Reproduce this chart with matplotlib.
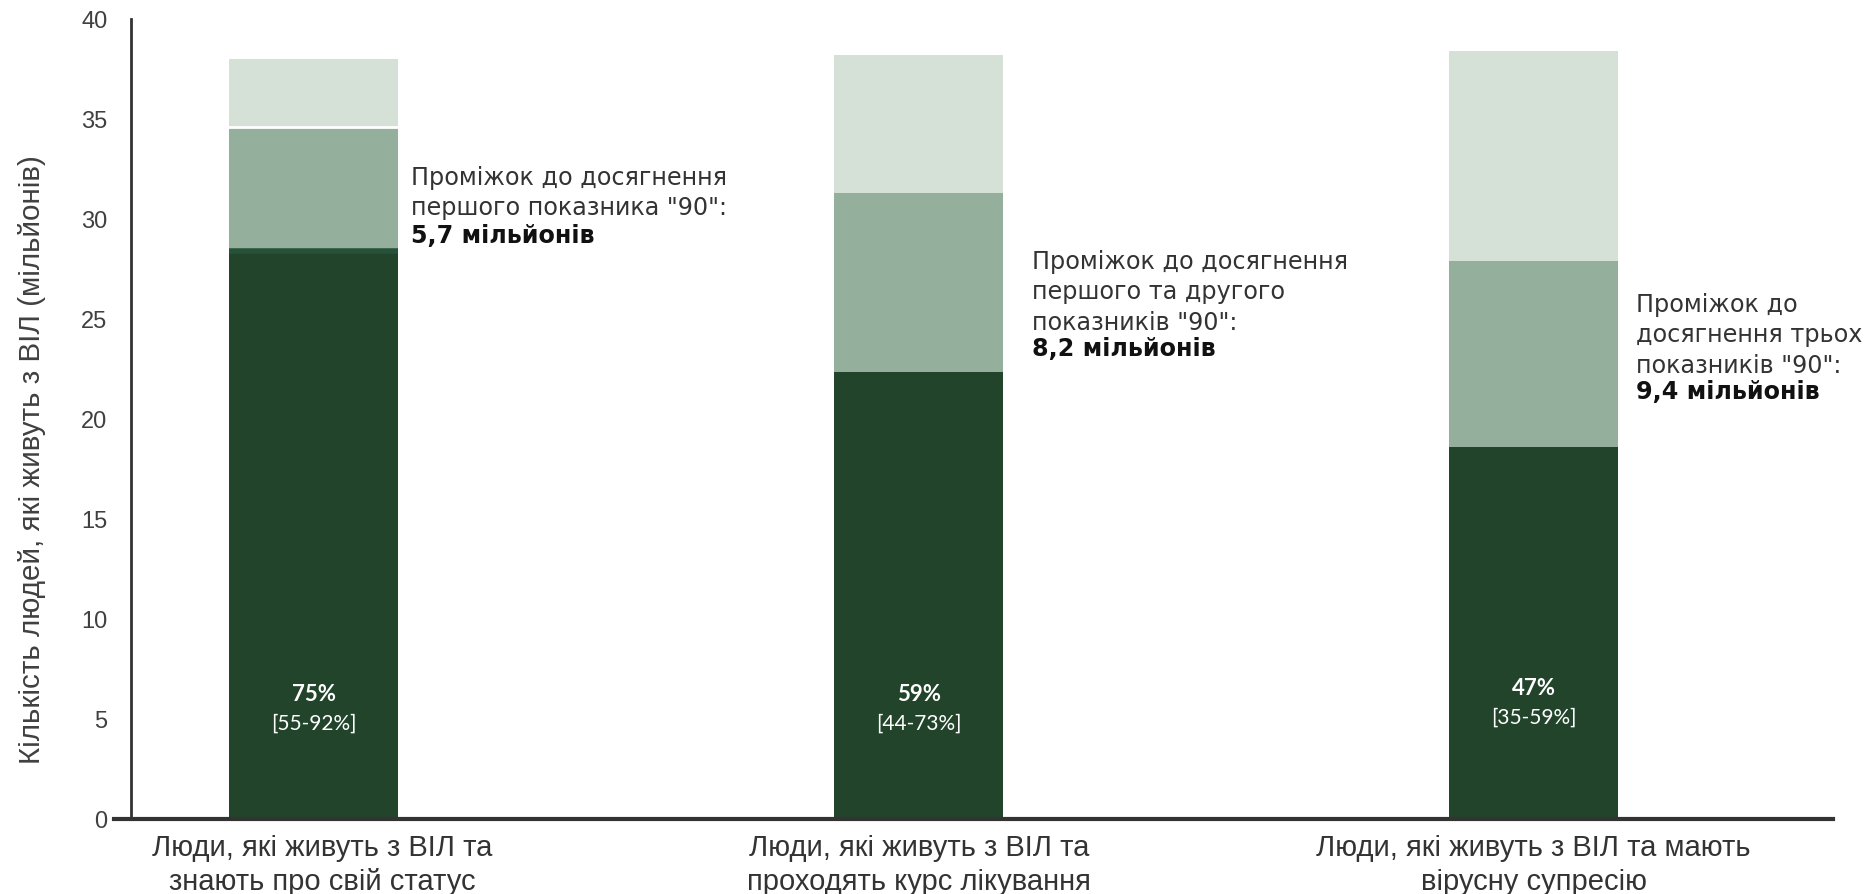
import matplotlib.pyplot as plt
import matplotlib.transforms as mtransforms
import numpy as np

##############################################################################
# Data (millions of people living with HIV)
##############################################################################
categories = ['Люди, які живуть з ВІЛ та\nзнають про свій статус',
              'Люди, які живуть з ВІЛ та\nпроходять курс лікування',
              'Люди, які живуть з ВІЛ та мають\nвірусну супресію']
x = [0, 0.992, 2]                   # bar positions
achieved = [28.4, 22.35, 18.6]      # dark part
gap_90 = [34.6, 31.3, 27.9]         # top of the medium part
total = [38.0, 38.2, 38.4]          # top of the light part
pct = ['75%', '59%', '47%']
pct_range = ['[55-92%]', '[44-73%]', '[35-59%]']
gap_text = ['Проміжок до досягнення\nпершого показника "90":',
            'Проміжок до досягнення\nпершого та другого\nпоказників "90":',
            'Проміжок до\nдосягнення трьох\nпоказників "90":']
gap_value = ['5,7 мільйонів', '8,2 мільйонів', '9,4 мільйонів']

c_dark = '#21442b'
c_mid = '#94af9c'
c_light = '#d5e0d7'

width = 0.277

fig = plt.figure(figsize=(18.7, 8.95), dpi=100)
ax = fig.add_axes([0.070, 0.0838, 0.910, 0.894])

ax.bar(x, achieved, width, color=c_dark, zorder=2)
ax.bar(x, np.array(gap_90) - np.array(achieved), width, bottom=achieved, color=c_mid, zorder=2)
ax.bar(x, np.array(total) - np.array(gap_90), width, bottom=gap_90, color=c_light, zorder=2)
# thin white separation and lighter top edge on the first bar
ax.plot([x[0] - width / 2, x[0] + width / 2], [gap_90[0], gap_90[0]], color='white', lw=2, zorder=3)
ax.plot([x[0] - width / 2, x[0] + width / 2], [achieved[0], achieved[0]], color='#27523a',
        lw=4, solid_capstyle='butt', zorder=3)

ax.set_xlim(-0.30, 2.49)
ax.set_ylim(0, 40)
ax.set_yticks(np.arange(0, 41, 5))
ax.set_xticks(x)
ax.set_xticklabels(categories, fontsize=21, color='#333333',
                   family='Liberation Sans', linespacing=1.28)
ax.tick_params(axis='x', length=0, pad=10)
ax.tick_params(axis='y', length=0, pad=17, labelsize=17, labelcolor='#404040')
for lab in ax.get_yticklabels():
    lab.set_family('Liberation Sans')
# first category label sits a little right of its bar
lab0 = ax.get_xticklabels()[0]
lab0.set_transform(lab0.get_transform() + mtransforms.ScaledTranslation(8 / 100, 0, fig.dpi_scale_trans))

for s in ['top', 'right']:
    ax.spines[s].set_visible(False)
ax.spines['left'].set_linewidth(2)
ax.spines['left'].set_color('#333333')
ax.spines['bottom'].set_visible(False)
ax.plot([-0.01, 1.0], [0, 0], transform=ax.transAxes, color='#333333', lw=3, clip_on=False, zorder=4)

ax.set_ylabel('Кількість людей, які живуть з ВІЛ (мільйонів)', fontsize=21.3, color='#404040',
              family='Liberation Sans')
ax.yaxis.set_label_coords(-0.050, 0.45)

# percentages inside the bars
pct_y = [6.25, 6.25, 6.55]
for i in range(len(x)):
    ax.text(x[i], pct_y[i], pct[i], ha='center', va='center', color='white',
            fontsize=16, fontweight='bold', family='Lato', zorder=5)
    ax.text(x[i], pct_y[i] - 1.45, pct_range[i], ha='center', va='center', color='white',
            fontsize=15, family='Lato', zorder=5)

# gap annotations
ann_x = [0.16, 1.178, 2.168]
ann_y = [32.7, 28.5, 26.35]
for i in range(len(x)):
    n = gap_text[i].count('\n') + 1
    ax.text(ann_x[i], ann_y[i], gap_text[i], ha='left', va='top',
            fontsize=17.2, color='#333333', family='DejaVu Sans', linespacing=1.34)
    ax.text(ann_x[i], ann_y[i] - n * 1.45, gap_value[i], ha='left', va='top',
            fontsize=17.2, color='#111111', fontweight='bold', family='DejaVu Sans')

fig.savefig('out.png', dpi=100)
